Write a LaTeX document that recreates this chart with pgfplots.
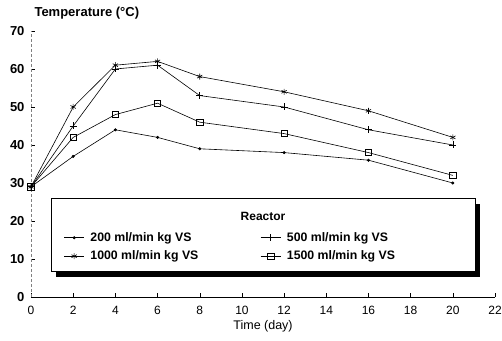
\documentclass[border=0pt]{standalone}
\usepackage{pgfplots}
\pgfplotsset{compat=1.18}
\usepackage{fontspec}
\setmainfont{Liberation Sans}
\begin{document}
\begin{tikzpicture}
\begin{axis}[
  scale only axis, width=464pt, height=266pt,
  xmin=0, xmax=22, ymin=0, ymax=70,
  axis x line=bottom, axis y line=left,
  axis line style={-},
  y axis line style={densely dashed, gray},
  xtick={0,2,...,22}, ytick={0,10,...,70},
  x tick style={black, thin}, y tick style={black, thin},
  tick align=inside,
  major tick length=4pt,
  /pgf/number format/assume math mode=true,
  xticklabel style={font=\fontsize{12}{14}\selectfont, yshift=-6pt},
  yticklabel style={font=\fontsize{13}{15}\selectfont\bfseries, xshift=-3pt},
  xlabel={Time (day)},
  xlabel style={font=\fontsize{12.5}{14}\selectfont, yshift=1pt},
  ylabel={Temperature (°C)},
  ylabel style={rotate=-90, at={(axis description cs:0,1)}, anchor=south west, font=\fontsize{13}{15}\selectfont\bfseries, yshift=8pt},
  legend columns=2,
  legend style={at={(axis description cs:0.064,0.258)}, anchor=north west, draw=none, fill=none,
    font=\fontsize{12.3}{14}\selectfont\bfseries, cells={anchor=west}, row sep=4pt,
    nodes={inner xsep=6pt}},
  legend image code/.code={\draw[mark repeat=2,mark phase=2,#1] plot coordinates {(0cm,0cm)(0.35cm,0cm)(0.7cm,0cm)};},
  every axis plot/.append style={black, line width=0.6pt},
]
\coordinate (bl) at (axis description cs:-0.0668,-0.165);
\coordinate (tr) at (axis description cs:1.015,1.1165);
\fill[black] (axis description cs:0.054,0.075) rectangle (axis description cs:0.968,0.350);
\draw[black, fill=white, line width=0.6pt] (axis description cs:0.0431,0.0977) rectangle (axis description cs:0.957,0.372);
\node[font=\fontsize{12}{14}\selectfont\bfseries] at (axis description cs:0.5,0.304) {Reactor};
\addplot[mark=*, mark size=1.2pt] coordinates {(0,29)(2,37)(4,44)(6,42)(8,39)(12,38)(16,36)(20,30)};
\addlegendentry{\makebox[164pt][l]{200 ml/min kg VS}}
\addplot[mark=+, mark size=3.5pt] coordinates {(0,29)(2,45)(4,60)(6,61)(8,53)(12,50)(16,44)(20,40)};
\addlegendentry{500 ml/min kg VS}
\addplot[mark=asterisk, mark size=3pt] coordinates {(0,29)(2,50)(4,61)(6,62)(8,58)(12,54)(16,49)(20,42)};
\addlegendentry{\makebox[164pt][l]{1000 ml/min kg VS}}
\addplot[mark=square, mark size=3.2pt, mark options={fill=white}] coordinates {(0,29)(2,42)(4,48)(6,51)(8,46)(12,43)(16,38)(20,32)};
\addlegendentry{1500 ml/min kg VS}
\end{axis}
\pgfresetboundingbox
\useasboundingbox (bl) rectangle (tr);
\end{tikzpicture}
\end{document}
